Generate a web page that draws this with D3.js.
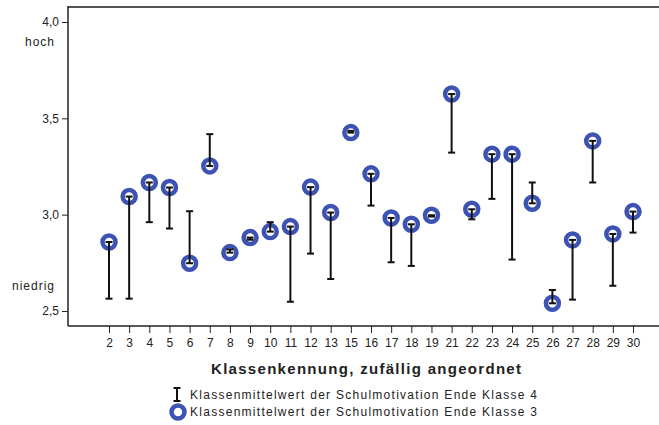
<!DOCTYPE html>
<html>
<head>
<meta charset="utf-8">
<script src="https://cdn.jsdelivr.net/npm/d3@7"></script>
<style>
  body { margin: 0; background: #fff; }
  svg text { font-family: "Liberation Sans", Arial, sans-serif; fill: #222; }
  .axis path, .axis line { stroke: #222; }
</style>
</head>
<body>
<svg id="chart" width="659" height="425"></svg>
<script>
// Klassenkennung (14 und 20 fehlen)
const klassen = [2, 3, 4, 5, 6, 7, 8, 9, 10, 11, 12, 13, 15, 16, 17, 18, 19, 21, 22, 23, 24, 25, 26, 27, 28, 29, 30];
// Klassenmittelwert Ende Klasse 3 (Kreise)
const klasse3 = [2.858, 3.094, 3.167, 3.141, 2.748, 3.253, 2.803, 2.881, 2.912, 2.938, 3.143, 3.011, 3.426, 3.212,
                 2.983, 2.950, 2.997, 3.626, 3.028, 3.314, 3.314, 3.059, 2.540, 2.869, 3.383, 2.900, 3.016];
// Klassenmittelwert Ende Klasse 4 (Balkenende)
const klasse4 = [2.564, 2.564, 2.961, 2.928, 3.018, 3.418, 2.820, 2.870, 2.961, 2.548, 2.798, 2.666, 3.435, 3.047,
                 2.753, 2.734, 2.990, 3.322, 2.976, 3.082, 2.767, 3.167, 2.609, 2.559, 3.167, 2.631, 2.907];
const yTicks = [2.5, 3.0, 3.5, 4.0];
const yLabels = [{v: 4.0, text: "hoch"}, {v: 2.5, text: "niedrig"}];
const legendItems = ["Klassenmittelwert der Schulmotivation Ende Klasse 4",
                     "Klassenmittelwert der Schulmotivation Ende Klasse 3"];

const margin = {left: 68, top: 7, right: 0, bottom: 99};
const width = 659, height = 425;
const blue = "#3c53b3";

const svg = d3.select("#chart");

const x = d3.scalePoint().domain(klassen).range([109, 633]);
const y = d3.scaleLinear().domain([2.5, 4.0]).range([311, 22]);
const yBottom = height - margin.bottom;

// Rahmen oben
svg.append("line")
    .attr("x1", margin.left).attr("x2", width)
    .attr("y1", margin.top).attr("y2", margin.top)
    .attr("stroke", "#555").attr("stroke-width", 2);

// y-Achse
const yAxis = svg.append("g").attr("class", "axis")
    .attr("transform", "translate(" + margin.left + ",0)")
    .call(d3.axisLeft(y).tickValues(yTicks).tickSizeOuter(0).tickSize(6)
        .tickFormat(d => d3.format(".1f")(d).replace(".", ",")));
yAxis.select(".domain").remove();
yAxis.selectAll("text").style("font-size", "12px").attr("x", -9);
svg.append("line")
    .attr("x1", margin.left).attr("x2", margin.left)
    .attr("y1", margin.top - 1).attr("y2", yBottom)
    .attr("stroke", "#222").attr("stroke-width", 1.5);

svg.selectAll(".ylab").data(yLabels).enter()
    .append("text").attr("class", "ylab")
    .attr("x", 55).attr("y", d => y(d.v) + (d.v > 3 ? 24 : -21))
    .attr("text-anchor", "end").style("font-size", "12px")
    .style("letter-spacing", "1px")
    .text(d => d.text);

// x-Achse
const xAxis = svg.append("g").attr("class", "axis")
    .attr("transform", "translate(0," + yBottom + ")")
    .call(d3.axisBottom(x).tickSizeOuter(0).tickSize(7));
xAxis.select(".domain").remove();
xAxis.selectAll("text").style("font-size", "12px").attr("y", 12);
svg.append("line")
    .attr("x1", margin.left).attr("x2", width)
    .attr("y1", yBottom).attr("y2", yBottom)
    .attr("stroke", "#222").attr("stroke-width", 1.5);

svg.append("text")
    .attr("x", 211).attr("y", 374)
    .attr("textLength", 310).attr("lengthAdjust", "spacing")
    .style("font-size", "15px").style("font-weight", "bold")
    .text("Klassenkennung, zufällig angeordnet");

// Daten
const data = klassen.map((k, i) => ({k: k, k3: klasse3[i], k4: klasse4[i]}));
const capW = 3.5;

const points = svg.append("g");
points.selectAll("circle").data(data).enter()
    .append("circle")
    .attr("cx", d => x(d.k)).attr("cy", d => y(d.k3))
    .attr("r", 6.5).attr("fill", "#fff")
    .attr("stroke", blue).attr("stroke-width", 4.5);

const bars = svg.append("g").attr("stroke", "#111").attr("stroke-width", 2);
bars.selectAll(".stem").data(data).enter()
    .append("line").attr("class", "stem")
    .attr("x1", d => x(d.k)).attr("x2", d => x(d.k))
    .attr("y1", d => y(d.k3)).attr("y2", d => y(d.k4));
bars.selectAll(".cap3").data(data).enter()
    .append("line").attr("class", "cap3")
    .attr("x1", d => x(d.k) - capW).attr("x2", d => x(d.k) + capW)
    .attr("y1", d => y(d.k3)).attr("y2", d => y(d.k3));
bars.selectAll(".cap4").data(data).enter()
    .append("line").attr("class", "cap4")
    .attr("x1", d => x(d.k) - capW).attr("x2", d => x(d.k) + capW)
    .attr("y1", d => y(d.k4)).attr("y2", d => y(d.k4));

// Legende
const legend = svg.append("g");
const lg1 = legend.append("g").attr("stroke", "#111").attr("stroke-width", 2);
lg1.append("line").attr("x1", 177).attr("x2", 177).attr("y1", 388).attr("y2", 401);
lg1.append("line").attr("x1", 173.5).attr("x2", 180.5).attr("y1", 388).attr("y2", 388);
lg1.append("line").attr("x1", 173.5).attr("x2", 180.5).attr("y1", 401).attr("y2", 401);
legend.append("circle").attr("cx", 178).attr("cy", 412).attr("r", 6.5)
    .attr("fill", "#fff").attr("stroke", blue).attr("stroke-width", 4.5);
legend.selectAll(".lt").data(legendItems).enter()
    .append("text").attr("class", "lt")
    .attr("x", 190).attr("y", (d, i) => 399 + i * 17)
    .attr("textLength", 347).attr("lengthAdjust", "spacing")
    .style("font-size", "12px")
    .text(d => d);
</script>
</body>
</html>
